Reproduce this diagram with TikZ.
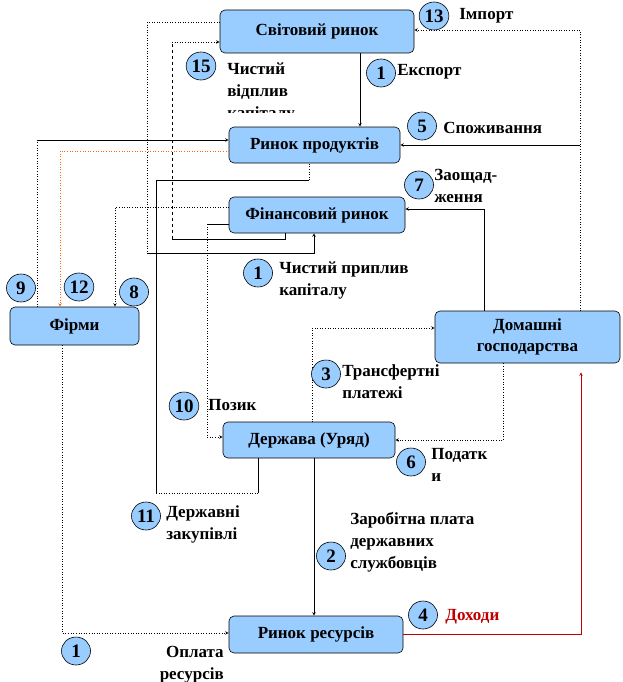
\documentclass[tikz,border=0pt]{standalone}
\usepackage{fontspec}
\setmainfont{Liberation Serif}[BoldFont={Liberation Serif Bold}]
\usetikzlibrary{calc,shapes.geometric,positioning}
\definecolor{boxblue}{RGB}{153,204,255}
\definecolor{flowred}{RGB}{192,0,0}
\definecolor{floworange}{RGB}{255,102,0}

\begin{document}
\begin{tikzpicture}[x=1pt,y=-1pt,>=stealth,line width=0.6pt,
  market/.style={draw=black,fill=boxblue,rounded corners=5pt,font=\bfseries\fontsize{17}{21}\selectfont,align=center,inner sep=0pt},
  num/.style={ellipse,draw=black,fill=boxblue,font=\bfseries\fontsize{19}{19}\selectfont,minimum width=29pt,minimum height=28pt,inner sep=1pt},
  lbl/.style={font=\bfseries\fontsize{17}{22}\selectfont,align=left,inner sep=0pt,anchor=base west},
  dotline/.style={dotted}]
  \useasboundingbox (0,0) rectangle (622,682);
  \node[market,minimum width=194pt,minimum height=43pt] (W) at (317,31.5) {Світовий ринок};
  \node[market,minimum width=171pt,minimum height=36pt] (P) at (314.5,145) {Ринок продуктів};
  \node[market,minimum width=176pt,minimum height=36pt] (F) at (317,215) {Фінансовий ринок};
  \node[market,minimum width=129pt,minimum height=38pt] (Fi) at (74.5,326) {Фірми};
  \node[market,minimum width=185pt,minimum height=52pt] (H) at (527.5,337) {Домашні\\господарства};
  \node[market,minimum width=172pt,minimum height=36pt] (G) at (309,440) {Держава (Уряд)};
  \node[market,minimum width=174pt,minimum height=37pt] (R) at (316,634.5) {Ринок ресурсів};
  \coordinate (ex) at (360,0);
  \coordinate (im) at (580,30);
  \coordinate (sv) at (484,209);
  \coordinate (o1) at (60,151);
  \coordinate (n9) at (37,140);
  \coordinate (n8) at (115,207);
  \coordinate (a1) at (147,22);
  \coordinate (a2) at (147,253);
  \coordinate (a3) at (314,253);
  \coordinate (b1) at (285,239);
  \coordinate (b2) at (172,239);
  \coordinate (b3) at (172,42);
  \coordinate (d1) at (258,493);
  \coordinate (d2) at (156,493);
  \coordinate (d3) at (156,180);
  \coordinate (d4) at (309,180);
  \coordinate (e1) at (207,224);
  \coordinate (e2) at (207,437);
  \coordinate (t1) at (312,328);
  \coordinate (t2) at (503,440);
  \coordinate (w1) at (314,0);
  \coordinate (p1) at (62,633);
  \coordinate (q1) at (581,634);
  \draw[->] (W.south -| ex) -- (P.north -| ex);
  \draw[->,dotline] (H.north -| im) -- (im) -- (im -| W.east);
  \draw[->] (im |- P.east) -- (P.east);
  \draw[->] (H.north -| sv) -- (sv) -- (sv -| F.east);
  \draw[->,dotline,floworange] (o1 -| P.west) -- (o1) -- (Fi.north -| o1);
  \draw[dotline] (Fi.north -| n9) -- (n9);
  \draw[->] (n9) -- (n9 -| P.west);
  \draw[->,dotline] (n8 -| F.west) -- (n8) -- (Fi.north -| n8);
  \draw[dotline] (a1 -| W.west) -- (a1) -- (a2);
  \draw[->] (a2) -- (a3) -- (F.south -| a3);
  \draw (F.south -| b1) -- (b1) -- (b2);
  \draw[dashed] (b2) -- (b3);
  \draw[->,dotline] (b3) -- (b3 -| W.west);
  \draw (G.south -| d1) -- (d1);
  \draw[dotline] (d1) -- (d2);
  \draw (d2) -- (d3) -- (d4);
  \draw[dotline] (d4) -- (d4 |- P.south);
  \draw (e1 -| F.west) -- (e1);
  \draw[->,dotline] (e1) -- (e2) -- (e2 -| G.west);
  \draw[->,dotline] (G.north -| t1) -- (t1) -- (t1 -| H.west);
  \draw[->,dotline] (H.south -| t2) -- (t2) -- (t2 -| G.east);
  \draw[->] (G.south -| w1) -- (R.north -| w1);
  \draw[->,dotline] (Fi.south -| p1) -- (p1) -- (p1 -| R.west);
  \draw[->,flowred,shorten >=9pt] (R.east |- q1) -- (q1) -- (q1 |- H.south);
  \node[num] (n13) at (434,16) {13};
  \node[num] (n1a) at (381,73) {1};
  \node[num] (n15) at (201,66) {15};
  \node[num] (n5) at (422,126) {5};
  \node[num] (n7) at (419,185) {7};
  \node[num] (n1b) at (258,273) {1};
  \node[num] (n9c) at (21,288) {9};
  \node[num] (n12) at (79,287) {12};
  \node[num] (n8c) at (134,292) {8};
  \node[num] (n3) at (326,374) {3};
  \node[num] (n10) at (184,406) {10};
  \node[num] (n6) at (411,462) {6};
  \node[num] (n11) at (146,516) {11};
  \node[num] (n2) at (331,556) {2};
  \node[num] (n4) at (423,615) {4};
  \node[num] (n1c) at (76,651) {1};
  \node[lbl] (l13) at (459,20) {Імпорт};
  \node[lbl] (l1a) at (397,76) {Експорт};
  \begin{scope}
    \clip (220,50) rectangle (310,113);
    \node[lbl] (l15) at (227,119) {Чистий\\відплив\\капіталу};
  \end{scope}
  \node[lbl] (l5) at (443,133) {Споживання};
  \node[lbl] (l7) at (434,202) {Заощад-\\ження};
  \node[lbl] (l1b) at (279,295) {Чистий приплив\\капіталу};
  \node[lbl] (l3) at (342,398) {Трансфертні\\платежі};
  \node[lbl] (l10) at (208,410) {Позик};
  \node[lbl] (l6) at (431,481) {Податк\\и};
  \node[lbl] (l11) at (166,539) {Державні\\закупівлі};
  \node[lbl] (l2) at (350,568) {Заробітна плата\\державних\\службовців};
  \node[lbl,text=flowred] (l4) at (445,620) {Доходи};
  \node[lbl,align=right,anchor=base east] (l1c) at (224,679) {Оплата\\ресурсів};
\end{tikzpicture}
\end{document}
